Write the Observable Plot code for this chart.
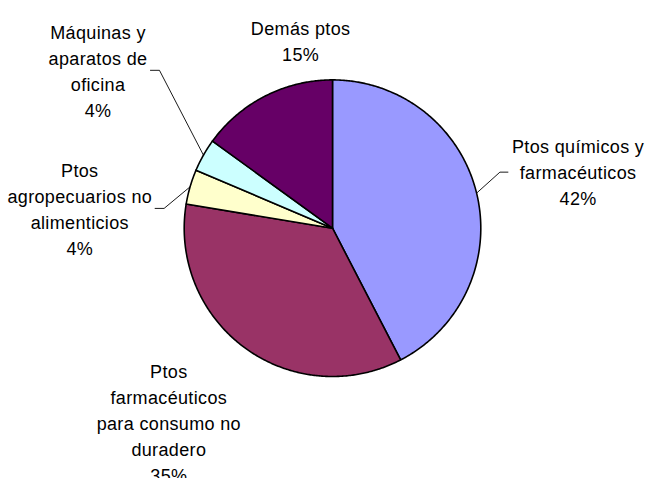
<!DOCTYPE html>
<html><head><meta charset="utf-8">
<script src="https://cdn.jsdelivr.net/npm/d3@7"></script>
<script src="https://cdn.jsdelivr.net/npm/@observablehq/plot@0.6"></script>
<style>html,body{margin:0;padding:0;background:#fff;overflow:hidden}</style>
</head><body><div id="chart"></div>
<script>
// ---- data ----
const categories = ["Ptos químicos y farmacéuticos", "Ptos farmacéuticos para consumo no duradero", "Ptos agropecuarios no alimenticios", "Máquinas y aparatos de oficina", "Demás ptos"];
const shares = [42.4, 35.2, 3.8, 3.6, 15.0];
const labelLines = [
  ["Ptos químicos y", "farmacéuticos"],
  ["Ptos", "farmacéuticos", "para consumo no", "duradero"],
  ["Ptos", "agropecuarios no", "alimenticios"],
  ["Máquinas y", "aparatos de", "oficina"],
  ["Demás ptos"]
];
const colors = ["#9999FF", "#993366", "#FFFFCC", "#CCFFFF", "#660066"];

// ---- layout ----
const W = 645, H = 478, cx = 332, cy = 227.7, R = 148.3;
const labelDist = [1.70, 1.71, 1.71, 1.91, 1.29];   // in radii
const labelTurn = [0.6, 4.2, -11.5, 4.6, 17.4];     // degrees from slice mid-angle
const leader = [true, false, true, true, false];
const fontSize = 18, lineH = 26, letterSp = 0.35;
const font = "Liberation Sans, Arial, Helvetica, sans-serif";

const canvas = document.createElement("canvas").getContext("2d");
canvas.font = `${fontSize}px ${font}`;
const textW = s => canvas.measureText(s).width + letterSp * s.length;

const arcs = d3.pie().sort(null).value(d => d)(shares);
const slices = arcs.map((a, i) => {
  const pts = [{x: 0, y: 0}];
  const n = Math.max(2, Math.ceil((a.endAngle - a.startAngle) / (Math.PI / 360)));
  for (let k = 0; k <= n; k++) {
    const t = a.startAngle + (a.endAngle - a.startAngle) * k / n;
    pts.push({x: Math.sin(t), y: Math.cos(t)});
  }
  pts.push({x: 0, y: 0});
  return {pts, color: colors[i]};
});

const fmt = d3.format(".0f");
const labels = arcs.map((a, i) => {
  const mid = (a.startAngle + a.endAngle) / 2;
  const t = mid + labelTurn[i] * Math.PI / 180;
  const lines = [...labelLines[i], fmt(shares[i]) + "%"];
  const halfW = d3.max(lines, textW) / 2 / R;
  return {
    x: labelDist[i] * Math.sin(t), y: labelDist[i] * Math.cos(t),
    text: lines.join("\n"), mid, halfW, i
  };
});

const leaders = [];
labels.forEach(l => {
  if (!leader[l.i]) return;
  const right = l.x > 0;
  const sx = right ? l.x - l.halfW - 4 / R : l.x + l.halfW + 3 / R;
  const sy = l.y - 1 / R;
  const ex = right ? sx - 8 / R : sx + 9 / R;
  leaders.push({id: l.i, x: sx, y: sy}, {id: l.i, x: ex, y: sy},
               {id: l.i, x: Math.sin(l.mid), y: Math.cos(l.mid)});
});

const chart = Plot.plot({
  width: W, height: H,
  margin: 0,
  x: {domain: [-cx / R, (W - cx) / R], axis: null},
  y: {domain: [-(H - cy) / R, cy / R], axis: null},
  style: {fontFamily: font, background: "#fff", letterSpacing: letterSp + "px"},
  marks: [
    ...slices.map(s => Plot.line(s.pts, {x: "x", y: "y", fill: s.color, stroke: "black", strokeWidth: 1.6, strokeLinejoin: "round"})),
    Plot.line(leaders, {x: "x", y: "y", z: "id", stroke: "black", strokeWidth: 0.9}),
    Plot.text(labels, {x: "x", y: "y", text: "text", fontSize, lineHeight: lineH / fontSize, fill: "black", textAnchor: "middle"})
  ]
});
document.getElementById("chart").appendChild(chart);
</script>
</body></html>
